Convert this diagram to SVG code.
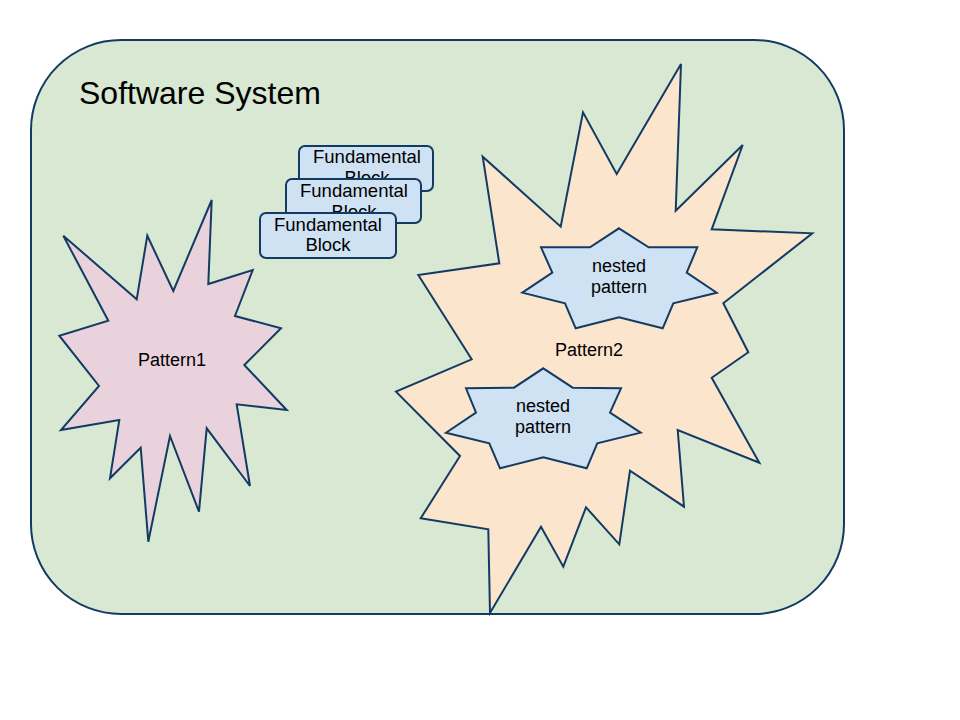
<svg xmlns="http://www.w3.org/2000/svg" width="960" height="720" viewBox="0 0 960 720">
<style>
.s{stroke:#123b63;stroke-width:2;stroke-linejoin:miter}
.t{font-family:"Liberation Sans",Arial,sans-serif;font-size:18px;fill:#000;text-anchor:middle}
.f{font-size:18.5px}
.blk{fill:#cfe2f3}
</style>
<rect width="960" height="720" fill="#ffffff"/>
<g id="system">
<rect class="s" x="31" y="40" width="813" height="574" rx="90" ry="90" fill="#d9e8d2"/>
<text x="79" y="104" font-family="Liberation Sans,Arial,sans-serif" font-size="32" fill="#000">Software System</text>
</g>
<g id="pattern1">
<polygon class="s" fill="#ead2dc" points="211.7,200 208.3,284 252.7,270 235,316 281,328.3 244.3,365 286.7,410 236.7,404.3 250,486 206.7,428.3 199,511.7 170,436 148.3,541.7 140.7,447.7 110,478.3 119.3,420 61,430 99,386 59.3,335.7 108.3,320.7 63.3,235.7 136.7,299.3 147.3,235.7 173.3,291"/>
<text class="t" x="172" y="366">Pattern1</text>
</g>
<g id="block3">
<rect class="s blk" x="299" y="146" width="134" height="45" rx="6"/>
<text class="t f" x="367" y="163">Fundamental</text>
<text class="t f" x="367" y="184">Block</text>
</g>
<g id="block2">
<rect class="s blk" x="286" y="179" width="135" height="44" rx="6"/>
<text class="t f" x="354" y="197">Fundamental</text>
<text class="t f" x="354" y="218">Block</text>
</g>
<g id="block1">
<rect class="s blk" x="260" y="213" width="136" height="45" rx="6"/>
<text class="t f" x="328" y="231">Fundamental</text>
<text class="t f" x="328" y="251">Block</text>
</g>
<g id="pattern2">
<polygon class="s" fill="#fce5cd" points="681,64 675.7,210.7 742.7,145 711.7,229.3 812.3,233.3 723.3,303.3 748.3,352.3 711.7,377.7 759.3,462.7 677.7,430 684,506.7 630,470.7 619.3,544.3 586,507.3 563.3,566.7 541,526.7 490,613 488.3,529.3 420.7,518.3 460,456 396,391.7 471.7,359.3 418.3,275 499.3,263.3 482.7,156.7 560.7,226.7 583,112.3 616.7,174"/>
<text class="t" x="589" y="356">Pattern2</text>
</g>
<g id="nested1">
<polygon class="s blk" points="619,228.3 648.7,247.3 697.3,247.3 686.7,272.7 716.7,292.7 673.3,303.3 662.7,328.3 619,317.3 575.7,328.3 565,303.3 522.3,292.7 552.3,272.7 541,247.3 590,247.3"/>
<text class="t" x="619" y="272">nested</text>
<text class="t" x="619" y="293">pattern</text>
</g>
<g id="nested2">
<polygon class="s blk" points="543.3,368.3 572.7,387.7 621,388.3 610,412.7 640.7,432.7 597.3,443.3 586.7,468.3 543.3,457.3 500,468.3 489.3,443.3 446,432.7 476,412.7 466,388.3 514,387.7"/>
<text class="t" x="543" y="412">nested</text>
<text class="t" x="543" y="433">pattern</text>
</g>
<g id="connectors"/>
</svg>
